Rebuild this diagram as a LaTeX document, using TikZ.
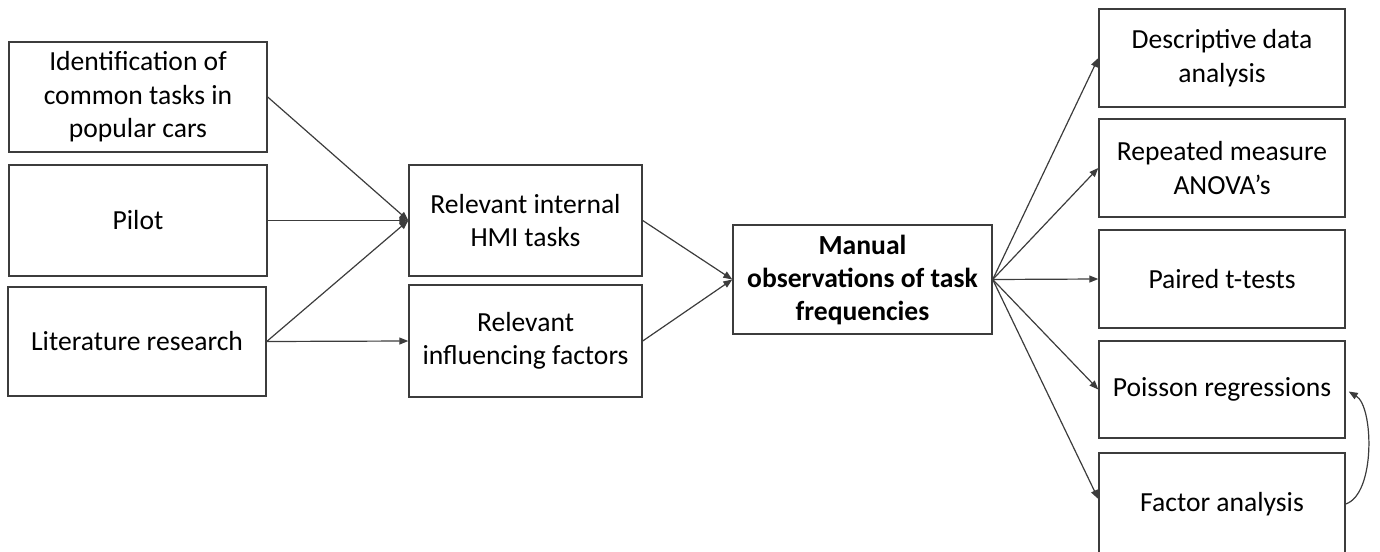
\documentclass[tikz,border=0pt]{standalone}
\usepackage{fontspec}
\setmainfont{Carlito}
\usetikzlibrary{arrows.meta}
\definecolor{edge}{RGB}{60,60,60}
\tikzset{
  x=1pt, y=-1pt,
  box/.style={draw=edge, line width=1.4pt, fill=white, align=center, inner sep=0pt,
    font=\fontsize{27.6}{33.5}\selectfont, text=black},
  link/.style={draw=edge, line width=1.2pt, -{Triangle[length=9pt,width=7pt]}}
}
\begin{document}
\begin{tikzpicture}
\useasboundingbox (0,0) rectangle (1380,551);

% inputs
\node[box, minimum width=258, minimum height=110] (ident) at (138,97) {Identification of\\common tasks in\\popular cars};
\node[box, minimum width=258, minimum height=111] (pilot) at (138,220.5) {Pilot};
\node[box, minimum width=258, minimum height=109] (lit) at (137,341.5) {Literature research};

% selections
\node[box, minimum width=233, minimum height=111] (hmi) at (525.5,220.5) {Relevant internal\\HMI tasks};
\node[box, minimum width=233, minimum height=112] (fact) at (525.5,341) {Relevant\\influencing factors};

% observation
\node[box, minimum width=259, minimum height=109, font=\fontsize{27.6}{33}\selectfont\bfseries] (obs) at (862.5,279.5) {Manual\\observations of task\\frequencies};

% analyses
\node[box, minimum width=246, minimum height=98] (desc) at (1222,58) {Descriptive data\\analysis};
\node[box, minimum width=246, minimum height=98] (anova) at (1222,168) {Repeated measure\\ANOVA’s};
\node[box, minimum width=246, minimum height=98] (ttest) at (1222,279) {Paired t-tests};
\node[box, minimum width=246, minimum height=97] (pois) at (1222,389.5) {Poisson regressions};
\node[box, minimum width=246, minimum height=102] (factor) at (1222,504) {Factor analysis};

% connectors
\draw[link] (ident.east) -- (hmi.west);
\draw[link] (pilot.east) -- (hmi.west);
\draw[link] (lit.east) -- (hmi.west);
\draw[link] (lit.east) -- (fact.west);
\draw[link] (hmi.east) -- (obs.west);
\draw[link] (fact.east) -- (obs.west);
\foreach \t in {desc,anova,ttest,pois}
  \draw[link] (obs.east) -- (\t.west);
\draw[link] (obs.east) -- ([yshift=5pt]factor.west);

% feedback from factor analysis to the regressions
\draw[link] (factor.east) .. controls +(30,-10) and +(25,15) .. ([xshift=3pt,yshift=-2pt]pois.east);
\end{tikzpicture}
\end{document}
